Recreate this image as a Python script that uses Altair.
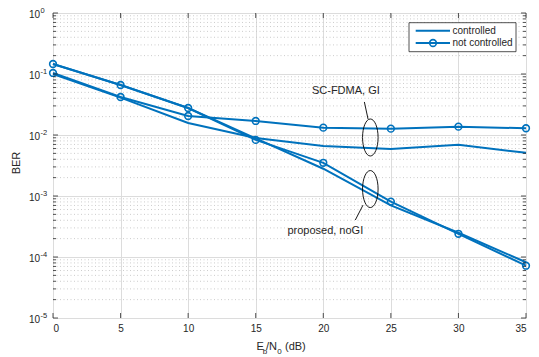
import altair as alt
import pandas as pd

# ---------------- data ----------------
snr = [0, 5, 10, 15, 20, 25, 30, 35]
sc_ctrl = [0.100, 0.041, 0.0157, 0.0089, 0.0066, 0.0059, 0.0069, 0.0051]
sc_nc = [0.104, 0.042, 0.0205, 0.0170, 0.0132, 0.0127, 0.0137, 0.0129]
prop_ctrl = [0.146, 0.066, 0.0277, 0.0088, 0.0028, 0.00070, 0.00025, 0.000082]
prop_nc = [0.146, 0.066, 0.0277, 0.0083, 0.0035, 0.00081, 0.00024, 0.000072]

x_ticks = [0, 5, 10, 15, 20, 25, 30, 35]
exponents = [0, -1, -2, -3, -4, -5]
decades = [10.0 ** e for e in exponents]
minor_vals = [m * 10.0 ** e for e in [-5, -4, -3, -2, -1] for m in range(2, 10)]

ann_text = ["SC-FDMA, GI", "proposed, noGI"]
ann_tx = [21.67, 20.15]
ann_ty = [0.052, 0.00027]
ell_x = [23.48, 23.48]
ell_y = [0.0091, 0.0013]
ptr_x1 = [23.04, 22.94]
ptr_y1 = [0.0348, 0.00071]
ptr_x2 = [23.31, 22.37]
ptr_y2 = [0.0183, 0.000404]

BLUE = "#0072BD"
FONT = "Liberation Sans"
DARK = "#262626"

rows = []
for name, ctrl, vals in [("sc_ctrl", True, sc_ctrl), ("sc_nc", False, sc_nc),
                         ("prop_ctrl", True, prop_ctrl), ("prop_nc", False, prop_nc)]:
    for s, v in zip(snr, vals):
        rows.append({"snr": s, "ber": v, "series": name, "controlled": ctrl})
df = pd.DataFrame(rows)

xs = alt.Scale(domain=[0, 35], nice=False, zero=False)
ys = alt.Scale(type="log", domain=[1e-5, 1], nice=False, zero=False)

X = alt.X("snr:Q", scale=xs,
          axis=alt.Axis(values=x_ticks, format="d", title=None, grid=True,
                        gridColor="#dcdcdc", ticks=False, domain=False,
                        labelFont=FONT, labelFontSize=10, labelColor=DARK,
                        labelPadding=5))
Y = alt.Y("ber:Q", scale=ys,
          axis=alt.Axis(values=decades, labels=False, ticks=False, domain=False,
                        title=None, grid=True, gridColor="#dcdcdc"))

# minor grid
minor_df = pd.DataFrame({"v": minor_vals})
minor = alt.Chart(minor_df).mark_rule(color="#cccccc", strokeDash=[1, 2.5], strokeWidth=1).encode(
    y=alt.Y("v:Q", scale=ys), x=alt.value(0), x2=alt.value(473))

# lines
lines = alt.Chart(df).mark_line(color=BLUE, strokeWidth=2).encode(
    x=X, y=Y, detail="series:N")
pts = alt.Chart(df[~df["controlled"]]).mark_point(
    shape="circle", filled=False, color=BLUE, size=45, strokeWidth=1.6, opacity=1).encode(
    x=alt.X("snr:Q", scale=xs), y=alt.Y("ber:Q", scale=ys))

# inner ticks
xt_df = pd.DataFrame({"v": x_ticks})
xt_bot = alt.Chart(xt_df).mark_rule(color=DARK, strokeWidth=0.8).encode(
    x=alt.X("v:Q", scale=xs), y=alt.value(305), y2=alt.value(300))
xt_top = alt.Chart(xt_df).mark_rule(color=DARK, strokeWidth=0.8).encode(
    x=alt.X("v:Q", scale=xs), y=alt.value(0), y2=alt.value(5))
yd_df = pd.DataFrame({"v": decades, "e": [str(e) for e in exponents], "b": ["10"] * len(decades)})
yt_l = alt.Chart(yd_df).mark_rule(color=DARK, strokeWidth=0.8).encode(
    y=alt.Y("v:Q", scale=ys), x=alt.value(0), x2=alt.value(5))
yt_r = alt.Chart(yd_df).mark_rule(color=DARK, strokeWidth=0.8).encode(
    y=alt.Y("v:Q", scale=ys), x=alt.value(473), x2=alt.value(468))
ym_l = alt.Chart(minor_df).mark_rule(color=DARK, strokeWidth=0.8).encode(
    y=alt.Y("v:Q", scale=ys), x=alt.value(0), x2=alt.value(3))
ym_r = alt.Chart(minor_df).mark_rule(color=DARK, strokeWidth=0.8).encode(
    y=alt.Y("v:Q", scale=ys), x=alt.value(473), x2=alt.value(470))

# y tick labels
ylab = alt.Chart(yd_df).mark_text(font=FONT, fontSize=10, color=DARK, align="right",
                                  baseline="middle", dy=2).encode(
    y=alt.Y("v:Q", scale=ys), x=alt.value(-13), text="b:N")
ysup = alt.Chart(yd_df).mark_text(font=FONT, fontSize=7.5, color=DARK, align="left",
                                  baseline="middle", dy=-2).encode(
    y=alt.Y("v:Q", scale=ys), x=alt.value(-12.5), text="e:N")

# axis titles
one = pd.DataFrame({"a": [0]})
ber_title = alt.Chart(one).mark_text(font=FONT, fontSize=11, color=DARK, angle=270,
                                     baseline="middle", align="center").encode(
    x=alt.value(-36), y=alt.value(150), text=alt.value("BER"))
xt_parts = pd.DataFrame({
    "t": ["E", "/N", "(dB)"],
    "px": [203.5, 213.0, 232.0],
})
xt_subs = pd.DataFrame({"t": ["b", "0"], "px": [209.8, 224.3]})
xtitle = alt.Chart(xt_parts).mark_text(font=FONT, fontSize=11, color=DARK, align="left",
                                       baseline="alphabetic").encode(
    x=alt.X("px:Q", scale=None), y=alt.value(337), text="t:N")
xsub = alt.Chart(xt_subs).mark_text(font=FONT, fontSize=8, color=DARK, align="left",
                                    baseline="alphabetic").encode(
    x=alt.X("px:Q", scale=None), y=alt.value(340.5), text="t:N")

# annotations
ann_df = pd.DataFrame({"t": ann_text, "x": ann_tx, "y": ann_ty,
                       "ex": ell_x, "ey": ell_y,
                       "x1": ptr_x1, "y1": ptr_y1, "x2": ptr_x2, "y2": ptr_y2})
ann_t = alt.Chart(ann_df).mark_text(font=FONT, fontSize=11, color=DARK, align="center",
                                    baseline="middle").encode(
    x=alt.X("x:Q", scale=xs), y=alt.Y("y:Q", scale=ys), text="t:N")
ellipse = alt.Chart(ann_df).mark_point(
    shape="M0,-1 A0.42,1 0 1,1 0,1 A0.42,1 0 1,1 0,-1 Z",
    filled=False, color="black", size=1369, strokeWidth=0.9, opacity=1).encode(
    x=alt.X("ex:Q", scale=xs), y=alt.Y("ey:Q", scale=ys))
ptr = alt.Chart(ann_df).mark_rule(color="black", strokeWidth=0.9).encode(
    x=alt.X("x1:Q", scale=xs), y=alt.Y("y1:Q", scale=ys),
    x2="x2:Q", y2="y2:Q")

# legend
leg_box = alt.Chart(one).mark_rect(fill="white", stroke=DARK, strokeWidth=0.8).encode(
    x=alt.value(356), x2=alt.value(463), y=alt.value(9.7), y2=alt.value(38.7))
leg_rows = pd.DataFrame({"t": ["controlled", "not controlled"], "py": [17.7, 30.0]})
leg_lines = alt.Chart(leg_rows).mark_rule(color=BLUE, strokeWidth=2).encode(
    x=alt.value(362.7), x2=alt.value(397), y=alt.Y("py:Q", scale=None))
leg_pt = alt.Chart(one).mark_point(shape="circle", filled=False, color=BLUE, size=45,
                                   strokeWidth=1.6, opacity=1).encode(
    x=alt.value(380), y=alt.value(30))
leg_txt = alt.Chart(leg_rows).mark_text(font=FONT, fontSize=10, color=DARK, align="left",
                                        baseline="middle").encode(
    x=alt.value(399.5), y=alt.Y("py:Q", scale=None), text="t:N")

chart = alt.layer(
    minor, lines, pts, xt_bot, xt_top, yt_l, yt_r, ym_l, ym_r,
    ylab, ysup, ber_title, xtitle, xsub, ann_t, ellipse, ptr,
    leg_box, leg_lines, leg_pt, leg_txt
).properties(
    width=473, height=305,
    autosize=alt.AutoSizeParams(type="none"),
    padding={"left": 53, "top": 13, "right": 13, "bottom": 39},
).configure_view(stroke=DARK, strokeWidth=0.8).configure(background="white")

chart.save("out.html", embed_options={"renderer": "svg", "actions": False})
